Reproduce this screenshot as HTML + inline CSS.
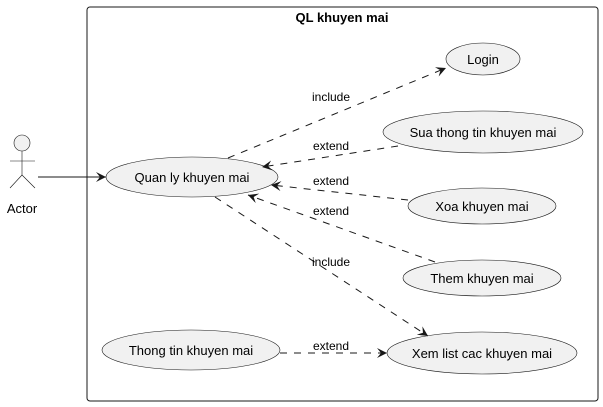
<!DOCTYPE html>
<html><head><style>body{margin:0;background:#fff}svg{display:block}text{font-family:"Liberation Sans",sans-serif}</style></head><body>
<svg width="603" height="407" viewBox="0 0 603 407" xmlns="http://www.w3.org/2000/svg">
<defs><marker id="a" markerWidth="12" markerHeight="10" refX="10" refY="5" orient="auto" markerUnits="userSpaceOnUse"><path d="M0,0 L10,5 L0,10 L4,5 Z" fill="#181818"/></marker></defs>
<rect x="87" y="7" width="511" height="394" rx="3" fill="none" stroke="#181818" stroke-width="1"/>
<text x="342" y="22" font-size="13" font-weight="bold" text-anchor="middle">QL khuyen mai</text>
<g fill="#f1f1f1" stroke="#181818" stroke-width="0.6">
<circle cx="22" cy="143" r="8"/>
<line x1="22" y1="151" x2="22" y2="175"/><line x1="10" y1="161" x2="35" y2="161"/>
<line x1="22" y1="175" x2="10" y2="188"/><line x1="22" y1="175" x2="35" y2="188"/>
<ellipse cx="192" cy="177" rx="86" ry="20"/>
<ellipse cx="483" cy="59" rx="37" ry="16"/>
<ellipse cx="483" cy="132" rx="100" ry="21"/>
<ellipse cx="482" cy="206" rx="74" ry="18"/>
<ellipse cx="482" cy="278" rx="79" ry="18"/>
<ellipse cx="482" cy="353" rx="95" ry="21"/>
<ellipse cx="191" cy="350" rx="89" ry="20"/>
</g>
<text x="22" y="213" font-size="13" text-anchor="middle">Actor</text>
<g font-size="13" text-anchor="middle">
<text x="192" y="182">Quan ly khuyen mai</text>
<text x="483" y="64">Login</text>
<text x="483" y="137">Sua thong tin khuyen mai</text>
<text x="482" y="211">Xoa khuyen mai</text>
<text x="482" y="283">Them khuyen mai</text>
<text x="482" y="358">Xem list cac khuyen mai</text>
<text x="191" y="355">Thong tin khuyen mai</text>
</g>
<line x1="38" y1="177" x2="106" y2="177" stroke="#181818" marker-end="url(#a)"/>
<g stroke="#181818" stroke-dasharray="7,7" fill="none">
<line x1="228" y1="158" x2="446" y2="68" marker-end="url(#a)"/>
<line x1="398" y1="146" x2="262" y2="167" marker-end="url(#a)"/>
<line x1="408" y1="200" x2="271" y2="185" marker-end="url(#a)"/>
<line x1="435" y1="262" x2="248" y2="195" marker-end="url(#a)"/>
<line x1="215" y1="197" x2="428" y2="336" marker-end="url(#a)"/>
<line x1="280" y1="353" x2="387" y2="353" marker-end="url(#a)"/>
</g>
<g font-size="12" text-anchor="middle">
<text x="331" y="101">include</text>
<text x="331" y="150">extend</text>
<text x="331" y="185">extend</text>
<text x="331" y="215">extend</text>
<text x="331" y="266">include</text>
<text x="331" y="350">extend</text>
</g>
</svg>
</body></html>
